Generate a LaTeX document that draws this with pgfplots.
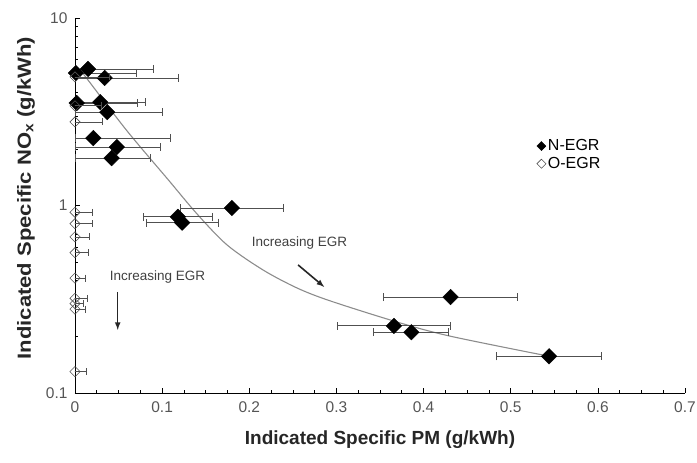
\documentclass[border=0pt]{standalone}
\usepackage{pgfplots}
\pgfplotsset{compat=1.18}
\usepackage{pgfplotstable}
\usepackage{fontspec}
\setmainfont{Liberation Sans}
\definecolor{tickgray}{HTML}{555555}
\definecolor{bargray}{HTML}{505050}
\definecolor{curvegray}{HTML}{8C8C8C}

\pgfplotstableread{
x y em ep
0.001 5.09 0.001 0.070
0.015 5.35 0.015 0.075
0.034 4.79 0.034 0.085
0.002 3.52 0.002 0.070
0.029 3.56 0.029 0.052
0.037 3.15 0.037 0.063
0.021 2.29 0.021 0.088
0.048 2.05 0.048 0.050
0.042 1.79 0.042 0.044
0.180 0.97 0.059 0.059
0.118 0.87 0.040 0.040
0.123 0.81 0.041 0.041
0.431 0.325 0.077 0.077
0.366 0.228 0.065 0.065
0.386 0.211 0.043 0.043
0.544 0.157 0.060 0.060
}\negr

\pgfplotstableread{
x y em ep
0 4.85 0 0.040
0 3.40 0 0.030
0 2.79 0 0.032
0 0.92 0 0.020
0 0.80 0 0.020
0 0.68 0 0.017
0 0.56 0 0.015
0 0.41 0 0.012
0 0.32 0 0.014
0 0.30 0 0.010
0 0.28 0 0.012
0 0.13 0 0.013
}\oegr

\pgfplotstableread{
x y
0.008 5.15
0.0149 4.67
0.0597 2.50
0.1071 1.37
0.1401 0.901
0.1745 0.616
0.2158 0.453
0.2549 0.363
0.2928 0.310
0.3697 0.239
0.4305 0.201
0.5442 0.157
}\fit

\begin{document}
\begin{tikzpicture}
\useasboundingbox (-75pt,-70pt) rectangle (622pt,393pt);
\begin{axis}[
  scale only axis,
  width=610pt, height=375pt,
  ymode=log,
  xmin=0, xmax=0.7, ymin=0.1, ymax=10,
  axis x line=bottom, axis y line=left,
  axis line style={-, black, line width=0.8pt},
  xtick={0,0.1,...,0.7},
  xticklabels={0,0.1,0.2,0.3,0.4,0.5,0.6,0.7},
  minor x tick num=3,
  ytick={0.1,1,10},
  yticklabels={0.1,1,10},
  minor ytick={0.2,0.3,0.4,0.5,0.6,0.7,0.8,0.9,2,3,4,5,6,7,8,9},
  tick align=inside,
  major tick length=5pt, minor tick length=3.5pt,
  tick style={black, line width=0.6pt},
  /pgf/number format/assume math mode=true,
  ticklabel style={font=\fontsize{15.5}{17}\selectfont, text=tickgray},
  xticklabel style={yshift=-5pt},
  yticklabel style={xshift=-4pt},
  every axis x label/.style={at={([yshift=-47pt]axis description cs:0.5,0)}, anchor=center},
  every axis y label/.style={at={([xshift=-49pt]axis description cs:0,0.52)}, anchor=center, rotate=90, xscale=1.16},
  label style={font=\bfseries\fontsize{19}{22}\selectfont, text=black!85},
  xlabel={Indicated Specific PM (g/kWh)},
  ylabel={Indicated Specific NO\textsubscript{x} (g/kWh)},
  clip mode=individual,
  legend style={at={(0.752,0.635)}, anchor=west, draw=none, fill=none,
    font=\fontsize{16}{18}\selectfont, row sep=1pt,
    /tikz/every even column/.append style={column sep=0pt}},
  legend image post style={mark size=3.2pt},
  legend image code/.code={\draw[#1] plot coordinates {(0.12cm,0cm)};},
  legend cell align=left,
]
\addplot[curvegray, line width=1.1pt, smooth, forget plot] table[x=x, y=y] {\fit};
\addplot[only marks, mark=square*, mark size=5.5pt,
  mark options={rotate=45, fill=black, draw=black},
  error bars/.cd, x dir=both, x explicit,
  error bar style={bargray, line width=0.8pt},
  error mark options={rotate=90, bargray, mark size=4pt, line width=0.8pt}]
  table[x=x, y=y, x error plus=ep, x error minus=em] {\negr};
\addlegendentry{N-EGR}
\addplot[only marks, mark=square, mark size=3.6pt,
  mark options={rotate=45, fill=white, draw=bargray, line width=0.6pt},
  error bars/.cd, x dir=both, x explicit,
  error bar style={bargray, line width=0.8pt},
  error mark options={rotate=90, bargray, mark size=3.5pt, line width=0.8pt}]
  table[x=x, y=y, x error plus=ep, x error minus=em] {\oegr};
\addlegendentry{O-EGR}
\node[anchor=west, font=\fontsize{13.5}{15}\selectfont, text=black!75] at (axis cs:0.199,0.631) {Increasing EGR};
\node[anchor=west, font=\fontsize{13.5}{15}\selectfont, text=black!75] at (axis cs:0.036,0.415) {Increasing EGR};
\draw[-latex, line width=1.6pt, black!85] (axis cs:0.256,0.482) -- (axis cs:0.286,0.368);
\draw[-latex, line width=1.6pt, black!85] (axis cs:0.049,0.346) -- (axis cs:0.049,0.217);
\end{axis}
\end{tikzpicture}
\end{document}
